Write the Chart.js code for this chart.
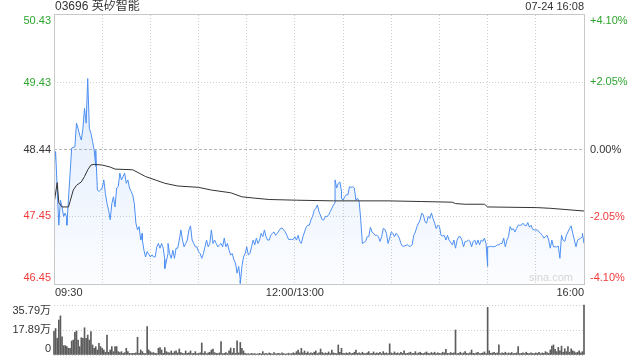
<!DOCTYPE html>
<html lang="zh-CN">
<head>
<meta charset="UTF-8">
<title>03696 英矽智能</title>
<script src="https://cdn.jsdelivr.net/npm/chart.js@4.4.1/dist/chart.umd.min.js"></script>
<style>
  body { margin: 0; background: #fff; }
  #wrap { position: relative; width: 640px; height: 360px; }
  #wrap canvas { position: absolute; left: 0; top: 0; }
</style>
</head>
<body>
<div id="wrap">
  <canvas id="priceChart" width="640" height="360"></canvas>
  <canvas id="volChart" width="640" height="360"></canvas>
</div>
<script>
const title = "03696 英矽智能";
const stamp = "07-24 16:08";
const prevClose = 48.44;
const priceTicks = [46.45, 47.45, 48.44, 49.43, 50.43];
const pctTicks = [-4.10, -2.05, 0, 2.05, 4.10];
const timeLabels = ["09:30", "12:00/13:00", "16:00"];
const timeLabelAt = [0, 150, 330];   // trading minutes since 09:30, lunch removed
const volTicks = [0, 17.89, 35.79];  // 万

// last price (minute, price)
const priceMin = [
  0,1,3,4,5,6,7,8,8,11,13,14,15,16,17,18,19,20,21,22,
  23,24,25,26,26,27,28,29,30,31,32,33,34,35,36,37,38,39,40,41,
  42,43,44,45,46,47,48,49,50,51,52,53,54,55,55,56,57,58,60,61,
  62,63,64,65,66,67,68,69,69,71,71,72,73,74,75,76,77,78,79,80,
  81,82,83,84,85,86,87,88,89,90,91,92,93,94,95,96,97,98,99,100,
  101,102,103,104,105,106,107,108,109,110,111,112,113,114,115,116,116,117,118,119,
  120,121,122,123,124,125,126,127,128,129,130,131,132,133,134,135,136,137,138,139,
  141,142,143,144,145,146,147,148,149,150,151,152,153,154,155,156,157,158,159,160,
  161,162,163,164,165,167,168,169,170,171,172,173,174,175,175,176,177,178,179,179,
  180,181,182,183,184,185,186,187,188,189,190,191,192,194,195,196,197,198,199,200,
  201,202,203,204,205,206,207,208,209,210,211,212,213,214,215,216,217,218,220,221,
  222,223,224,225,226,227,228,229,230,231,232,233,234,235,236,237,238,239,240,241,
  242,243,244,245,246,248,249,250,251,252,253,254,255,256,257,258,259,260,261,262,
  263,264,265,266,267,268,269,270,270,271,272,273,275,276,277,278,279,280,281,282,
  283,284,285,286,287,288,289,290,291,292,293,294,295,296,297,298,299,301,302,303,
  304,305,306,307,308,309,310,311,312,313,314,315,316,317,318,319,320,321,322,323,
  324,325,326,328,329,329,330
];
const prices = [
  48.16,48.41,47.32,47.69,47.59,47.45,47.50,47.42,47.32,48.46,48.48,48.83,48.75,48.65,48.58,48.75,49.05,48.83,49.49,48.75,
  48.68,48.56,48.43,48.19,48.43,47.84,47.82,47.84,47.87,47.99,47.79,47.64,47.54,47.40,47.64,47.74,47.59,47.87,47.89,48.09,
  47.99,48.04,48.09,47.94,47.99,47.87,47.82,47.77,47.64,47.35,47.25,47.30,47.10,47.20,47.10,46.95,46.85,46.93,46.85,46.88,
  46.85,46.85,47.00,47.05,46.98,47.05,46.98,46.81,46.68,46.90,47.05,46.90,46.83,46.95,46.83,46.98,46.98,47.10,47.25,47.10,
  47.00,47.05,47.10,47.25,47.31,47.10,47.05,47.00,47.00,46.93,46.90,46.83,46.90,47.00,47.10,47.00,47.05,47.25,47.05,47.10,
  47.05,47.00,47.03,47.05,47.00,47.13,47.00,47.05,46.95,46.88,46.90,46.81,46.76,46.61,46.71,46.51,46.46,46.71,46.85,46.90,
  47.00,46.88,46.90,47.00,47.10,47.03,47.13,47.05,47.10,47.20,47.15,47.25,47.15,47.10,47.10,47.17,47.20,47.22,47.17,47.20,
  47.27,47.28,47.25,47.22,47.17,47.11,47.11,47.11,47.11,47.15,47.10,47.17,47.08,47.05,47.15,47.22,47.29,47.32,47.32,47.40,
  47.45,47.54,47.57,47.62,47.52,47.40,47.40,47.45,47.45,47.47,47.52,47.57,47.62,47.65,47.99,47.87,47.94,47.96,47.82,47.72,
  47.69,47.74,47.77,47.77,47.89,47.88,47.89,47.87,47.69,47.72,47.67,47.40,47.05,47.08,47.15,47.15,47.29,47.22,47.20,47.17,
  47.17,47.15,47.08,47.15,47.27,47.26,47.20,47.05,47.13,47.22,47.20,47.15,47.20,47.17,47.13,47.05,47.01,47.01,47.03,47.01,
  47.01,47.03,47.17,47.22,47.30,47.35,47.40,47.50,47.47,47.37,47.35,47.45,47.42,47.50,47.42,47.35,47.27,47.32,47.30,47.17,
  47.16,47.17,47.10,47.17,47.10,47.03,47.10,46.98,47.10,47.15,47.15,47.10,47.00,47.08,47.08,47.10,47.08,47.00,47.08,47.10,
  47.03,47.10,47.03,47.10,47.08,47.13,47.05,46.71,47.00,47.00,47.01,47.00,47.01,47.03,47.03,47.05,47.05,47.13,47.00,47.10,
  47.15,47.30,47.25,47.27,47.22,47.27,47.32,47.32,47.32,47.35,47.32,47.31,47.36,47.29,47.32,47.26,47.25,47.25,47.22,47.20,
  47.17,47.13,47.15,47.17,47.10,46.98,47.10,47.00,47.00,47.00,47.01,46.83,47.17,47.10,47.08,47.17,47.22,47.27,47.31,47.20,
  47.10,47.00,47.10,47.13,47.15,47.20,47.05
];

// average price line
const avgMin = [0,2,3,5,9,10,12,14,17,19,21,23,25,30,35,38,49,53,57,63,69,77,90,98,110,117,125,134,151,174,190,208,229,248,250,256,268,270,301,309,330];
const avgPrices = [47.64,47.95,47.65,47.59,47.59,47.67,47.84,47.91,47.96,48.04,48.14,48.21,48.22,48.21,48.18,48.15,48.14,48.09,48.04,47.99,47.94,47.90,47.88,47.84,47.80,47.74,47.72,47.70,47.69,47.68,47.68,47.68,47.67,47.66,47.64,47.63,47.63,47.59,47.58,47.57,47.53];

// volume per minute, 万 shares
const volumes = [
  17,19,12,25,28,13,6.7,6.7,6,4.8,
  4.8,10,10.7,16.2,17.2,10.7,6,12.4,11.9,19.5,
  11.9,14.3,10.7,16.7,7.2,4.8,6,3.6,8.4,6,
  4.8,3.6,2,14.3,2,3.6,6,2.4,6,6,
  2.4,1.7,2.4,1.2,1.7,4.8,2.4,1.2,1,1.2,
  1.2,1.5,12.7,1.2,3.6,2.4,1.2,1,20.3,3.6,
  2.4,1.5,1.7,1.2,1,4.8,5.3,3.6,1.2,5.3,
  2.4,1.7,1.5,2.9,1.2,2.4,2.9,1.5,4.3,1.7,
  1.2,1.0,2.9,1.2,1.5,2.9,1.0,1.2,2.4,1.0,
  1.2,1.5,8.6,1.2,2.4,1.0,1.5,2.0,3.6,4.3,
  1.7,1.2,1.0,1.5,9.6,1.0,1.2,1.7,1.0,2.9,
  5.0,1.5,4.8,1.2,10.2,1.5,9.0,4.8,2.9,1.2,
  0.8,1.0,0.6,1.2,0.8,1.0,0.7,0.9,1.2,0.8,
  2.4,0.9,1.2,0.8,1.5,1.0,0.7,1.8,0.9,1.0,
  1.2,0.8,1.5,1.0,0.7,0.9,1.3,0.8,1.0,1.6,
  1.2,2.4,3.6,1.5,4.8,1.5,2.9,1.2,2.2,1.0,
  1.6,1.2,2.0,2.9,1.0,1.5,4.3,1.8,1.0,1.5,
  1.2,2.2,1.0,3.6,1.5,1.2,1.0,7.2,2.0,4.8,
  1.2,1.0,1.5,1.2,1.8,1.0,1.2,2.0,3.6,1.2,
  1.5,1.0,2.0,1.2,1.0,1.5,2.4,1.0,1.2,2.2,
  1.0,1.5,1.2,2.0,1.0,2.4,1.2,1.5,1.0,8.0,
  1.5,1.0,2.2,1.2,1.5,1.0,2.0,1.2,2.9,1.0,
  1.2,1.5,2.0,1.0,1.2,2.4,1.0,1.5,2.0,1.2,
  1.0,1.5,2.2,1.2,1.0,1.8,1.2,2.0,1.0,1.5,
  1.2,1.0,2.0,1.5,4.0,1.2,1.0,1.8,1.2,1.5,
  17.9,1.0,1.2,2.0,1.0,1.5,2.4,1.2,1.0,1.5,
  3.6,1.2,1.0,1.5,2.0,1.0,1.2,1.5,2.2,1.0,
  34.1,3.0,1.2,1.5,2.0,1.2,1.5,7.2,1.0,1.5,
  1.2,2.0,1.0,1.5,1.2,1.8,1.0,1.2,1.5,6.0,
  1.0,1.2,1.5,1.0,2.0,1.2,1.0,1.5,1.2,1.0,
  1.5,1.2,2.0,1.0,1.5,1.2,2.4,1.8,1.2,3.6,
  6.4,7.2,4.0,2.4,5.5,3.0,6.4,2.0,4.5,2.4,
  6.0,2.0,4.5,3.0,2.4,1.5,2.0,3.0,1.5,2.4,
  35.79
];

const FONT = '"Liberation Sans", Arial, "Noto Sans CJK SC", sans-serif';
const GREEN = '#2ea52e';
const RED = '#f03b3b';
const TEXT = '#333';
const GRID = '#cfcfcf';
const NONE = 'rgba(0,0,0,0)';

function clampY(y, area) {
  return Math.min(Math.max(y, area.top + 6), area.bottom - 6);
}

const priceLabels = {
  id: 'priceLabels',
  afterDraw(chart) {
    const { ctx, chartArea: a, scales } = chart;
    ctx.save();
    ctx.setLineDash([]);
    ctx.strokeStyle = '#c8c8c8';
    ctx.lineWidth = 1;
    ctx.strokeRect(a.left + 0.5, a.top - 0.5, a.right - a.left, a.bottom - a.top + 1);

    ctx.font = '11px ' + FONT;
    ctx.textBaseline = 'middle';
    ctx.textAlign = 'right';
    priceTicks.forEach(v => {
      ctx.fillStyle = v > prevClose ? GREEN : v < prevClose ? RED : TEXT;
      ctx.fillText(v.toFixed(2), a.left - 3, clampY(scales.y.getPixelForValue(v), a));
    });
    ctx.textAlign = 'left';
    pctTicks.forEach(p => {
      ctx.fillStyle = p > 0 ? GREEN : p < 0 ? RED : TEXT;
      const s = (p > 0 ? '+' : '') + p.toFixed(2) + '%';
      ctx.fillText(s, a.right + 6, clampY(scales.y1.getPixelForValue(p), a));
    });

    ctx.fillStyle = TEXT;
    timeLabels.forEach((t, i) => {
      ctx.textAlign = i === 0 ? 'left' : i === timeLabels.length - 1 ? 'right' : 'center';
      ctx.fillText(t, scales.x.getPixelForValue(timeLabelAt[i]) + (i === 0 ? 1 : 0), a.bottom + 9);
    });

    ctx.font = '12px ' + FONT;
    ctx.textAlign = 'left';
    ctx.fillText(title, a.left + 1, 7);
    ctx.font = '11px ' + FONT;
    ctx.textAlign = 'right';
    ctx.fillText(stamp, a.right, 7);

    ctx.fillStyle = '#d6d6d6';
    ctx.font = '11px ' + FONT;
    ctx.fillText('sina.com', a.right - 11, a.bottom - 6);
    ctx.restore();
  }
};

new Chart(document.getElementById('priceChart'), {
  type: 'line',
  data: {
    datasets: [
      {
        data: avgMin.map((m, i) => ({ x: m, y: avgPrices[i] })),
        borderColor: '#333',
        borderWidth: 1,
        pointRadius: 0,
        fill: false,
        order: 0
      },
      {
        data: priceMin.map((m, i) => ({ x: m, y: prices[i] })),
        borderColor: '#4d8ff2',
        borderWidth: 1,
        pointRadius: 0,
        fill: 'start',
        backgroundColor: (c) => {
          const a = c.chart.chartArea;
          if (!a) return NONE;
          const g = c.chart.ctx.createLinearGradient(0, a.top, 0, a.bottom);
          g.addColorStop(0, 'rgba(77,143,242,0.22)');
          g.addColorStop(1, 'rgba(77,143,242,0.02)');
          return g;
        },
        order: 1
      }
    ]
  },
  options: {
    responsive: false,
    animation: false,
    events: [],
    layout: { padding: { left: 54, right: 56, top: 15, bottom: 76 } },
    plugins: { legend: { display: false }, tooltip: { enabled: false } },
    scales: {
      x: {
        type: 'linear', min: 0, max: 330,
        ticks: { display: false, stepSize: 30 },
        grid: { drawTicks: false, color: c => (c.tick && (c.tick.value === 0 || c.tick.value === 330)) ? NONE : GRID },
        border: { display: false, dash: [1, 2] },
        afterFit: s => { s.height = 0; }
      },
      y: {
        position: 'left', min: 46.45, max: 50.43,
        afterBuildTicks: s => { s.ticks = priceTicks.map(v => ({ value: v })); },
        ticks: { display: false },
        grid: { drawTicks: false, color: c => (c.tick && (c.tick.value === 49.43 || c.tick.value === 47.45)) ? GRID : NONE },
        border: { display: false, dash: [1, 2] },
        afterFit: s => { s.width = 0; }
      },
      y1: {
        position: 'right', min: -4.10, max: 4.10,
        afterBuildTicks: s => { s.ticks = pctTicks.map(v => ({ value: v })); },
        ticks: { display: false },
        grid: { drawTicks: false, color: c => (c.tick && c.tick.value === 0) ? '#b8b8b8' : NONE },
        border: { display: false, dash: [3, 2] },
        afterFit: s => { s.width = 0; }
      }
    }
  },
  plugins: [priceLabels]
});

const volLabels = {
  id: 'volLabels',
  afterDraw(chart) {
    const { ctx, chartArea: a, scales } = chart;
    ctx.save();
    ctx.font = '11px ' + FONT;
    ctx.textBaseline = 'middle';
    ctx.textAlign = 'right';
    ctx.fillStyle = TEXT;
    volTicks.forEach(v => {
      const s = v === 0 ? '0' : v.toFixed(2) + '万';
      ctx.fillText(s, a.left - 3, clampY(scales.y.getPixelForValue(v), a));
    });
    ctx.restore();
  }
};

new Chart(document.getElementById('volChart'), {
  type: 'bar',
  data: {
    datasets: [{
      data: volumes.map((v, i) => ({ x: i, y: v })),
      backgroundColor: '#5c5c5c',
      barThickness: 1,
      clip: false
    }]
  },
  options: {
    responsive: false,
    animation: false,
    events: [],
    layout: { padding: { left: 54, right: 56, top: 305, bottom: 5 } },
    plugins: { legend: { display: false }, tooltip: { enabled: false } },
    scales: {
      x: {
        type: 'linear', min: 0, max: 330, offset: false,
        ticks: { display: false },
        grid: { display: false },
        border: { display: false },
        afterFit: s => { s.height = 0; }
      },
      y: {
        min: 0, max: 35.79,
        afterBuildTicks: s => { s.ticks = volTicks.map(v => ({ value: v })); },
        ticks: { display: false },
        grid: { drawTicks: false, color: GRID },
        border: { display: false, dash: [1, 2] },
        afterFit: s => { s.width = 0; }
      }
    }
  },
  plugins: [volLabels]
});
</script>
</body>
</html>
